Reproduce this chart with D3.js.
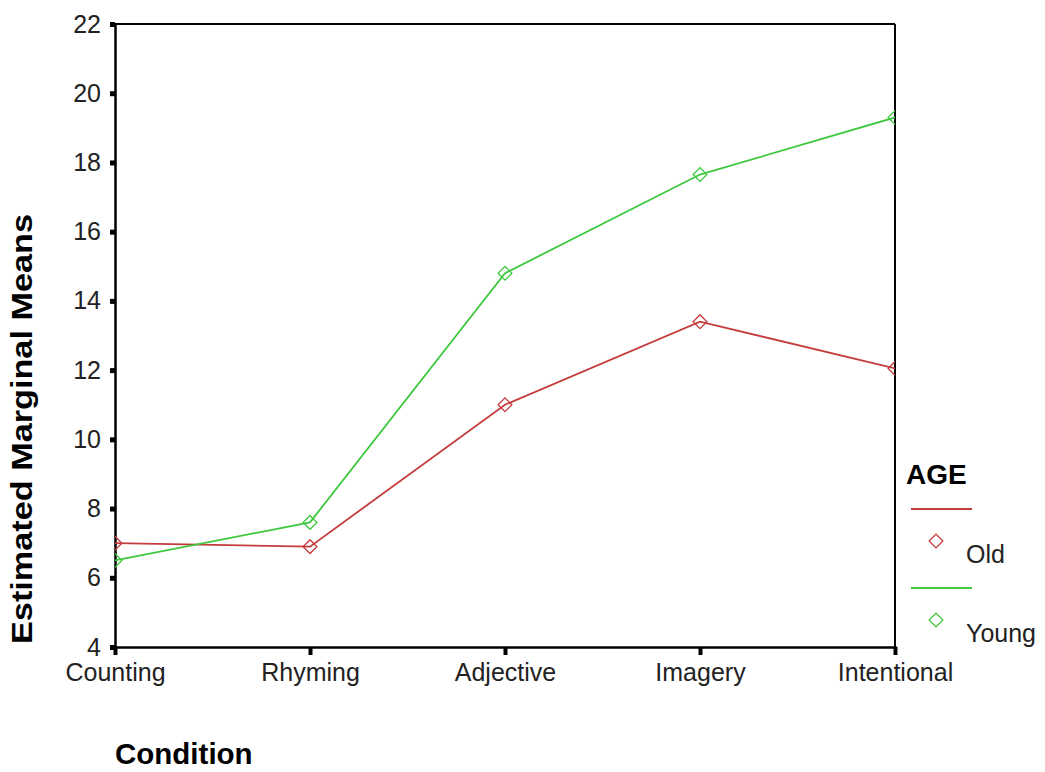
<!DOCTYPE html>
<html>
<head>
<meta charset="utf-8">
<script src="https://cdn.jsdelivr.net/npm/d3@7"></script>
<style>
  html, body { margin: 0; padding: 0; background: #fff; }
  svg { display: block; }
  text { font-family: Arial, "Liberation Sans", sans-serif; }
</style>
</head>
<body>
<svg id="chart" width="1045" height="772"></svg>
<script>
const conditions = ["Counting", "Rhyming", "Adjective", "Imagery", "Intentional"];
const oldMeans = [7.0, 6.9, 11.0, 13.4, 12.05];
const youngMeans = [6.5, 7.6, 14.8, 17.65, 19.3];
const yTicks = [4, 6, 8, 10, 12, 14, 16, 18, 20, 22];
const seriesNames = ["Old", "Young"];
const seriesColors = ["#c43c3c", "#3ec83e"];

const W = 1045, H = 772;
const m = { left: 115, right: 150, top: 24, bottom: 125 };
const svg = d3.select("#chart");

const x = d3.scalePoint().domain(conditions).range([m.left, W - m.right]).padding(0);
const y = d3.scaleLinear().domain([4, 22]).range([H - m.bottom, m.top]);

svg.append("rect").attr("width", W).attr("height", H).attr("fill", "#fff");

svg.append("defs").append("clipPath").attr("id", "plotclip")
  .append("rect")
  .attr("x", m.left).attr("y", m.top)
  .attr("width", W - m.right - m.left).attr("height", H - m.bottom - m.top);

// frame top & right
svg.append("line").attr("x1", m.left).attr("x2", W - m.right).attr("y1", m.top).attr("y2", m.top)
  .attr("stroke", "#000").attr("stroke-width", 2);
svg.append("line").attr("x1", W - m.right).attr("x2", W - m.right).attr("y1", m.top).attr("y2", H - m.bottom)
  .attr("stroke", "#000").attr("stroke-width", 2);

// y axis
const yAxis = svg.append("g").attr("transform", `translate(${m.left},0)`)
  .call(d3.axisLeft(y).tickValues(yTicks).tickSize(5).tickPadding(9).tickFormat(d3.format("d")));
yAxis.select(".domain").attr("stroke", "#000").attr("stroke-width", 2.5);
yAxis.selectAll(".tick line").attr("stroke", "#000").attr("stroke-width", 5);
yAxis.selectAll(".tick text").attr("font-size", 25).attr("fill", "#222")
  .attr("font-family", "Arial, 'Liberation Sans', sans-serif");

// x axis
const xAxis = svg.append("g").attr("transform", `translate(0,${H - m.bottom})`)
  .call(d3.axisBottom(x).tickSize(8).tickPadding(8));
xAxis.select(".domain").attr("stroke", "#000").attr("stroke-width", 2.5);
xAxis.selectAll(".tick line").attr("stroke", "#000").attr("stroke-width", 4);
xAxis.selectAll(".tick text").attr("font-size", 25).attr("fill", "#222")
  .attr("font-family", "Arial, 'Liberation Sans', sans-serif");

// lines & markers
const plot = svg.append("g").attr("clip-path", "url(#plotclip)");
const line = d3.line().x((d, i) => x(conditions[i])).y(d => y(d));
const marker = d3.symbol().type(d3.symbolSquare).size(95);
[oldMeans, youngMeans].forEach((vals, si) => {
  plot.append("path").datum(vals).attr("d", line)
    .attr("fill", "none").attr("stroke", seriesColors[si]).attr("stroke-width", 1.8);
  plot.selectAll(null).data(vals).enter().append("path")
    .attr("transform", (d, i) => `translate(${x(conditions[i])},${y(d)}) rotate(45)`)
    .attr("d", marker)
    .attr("fill", "none").attr("stroke", seriesColors[si]).attr("stroke-width", 1.3);
});

// axis titles
svg.append("text").attr("transform", `translate(32,${(213 + 645) / 2}) rotate(-90)`)
  .attr("text-anchor", "middle").attr("font-size", 29).attr("font-weight", "bold")
  .attr("textLength", 430).attr("lengthAdjust", "spacingAndGlyphs")
  .attr("fill", "#000").text("Estimated Marginal Means");

svg.append("text").attr("x", 115).attr("y", 764)
  .attr("font-size", 29.5).attr("font-weight", "bold").attr("fill", "#000").text("Condition");

// legend
const lg = svg.append("g");
lg.append("text").attr("x", 906).attr("y", 484).attr("font-size", 28).attr("font-weight", "bold")
  .attr("fill", "#000").text("AGE");
seriesNames.forEach((name, i) => {
  const oy = 509 + i * 79;
  lg.append("line").attr("x1", 911).attr("x2", 972).attr("y1", oy).attr("y2", oy)
    .attr("stroke", seriesColors[i]).attr("stroke-width", 1.8);
  lg.append("path").attr("transform", `translate(936,${oy + 32}) rotate(45)`)
    .attr("d", marker)
    .attr("fill", "none").attr("stroke", seriesColors[i]).attr("stroke-width", 1.3);
  lg.append("text").attr("x", 966).attr("y", oy + 54).attr("font-size", 25).attr("fill", "#222").text(name);
});
</script>
</body>
</html>
